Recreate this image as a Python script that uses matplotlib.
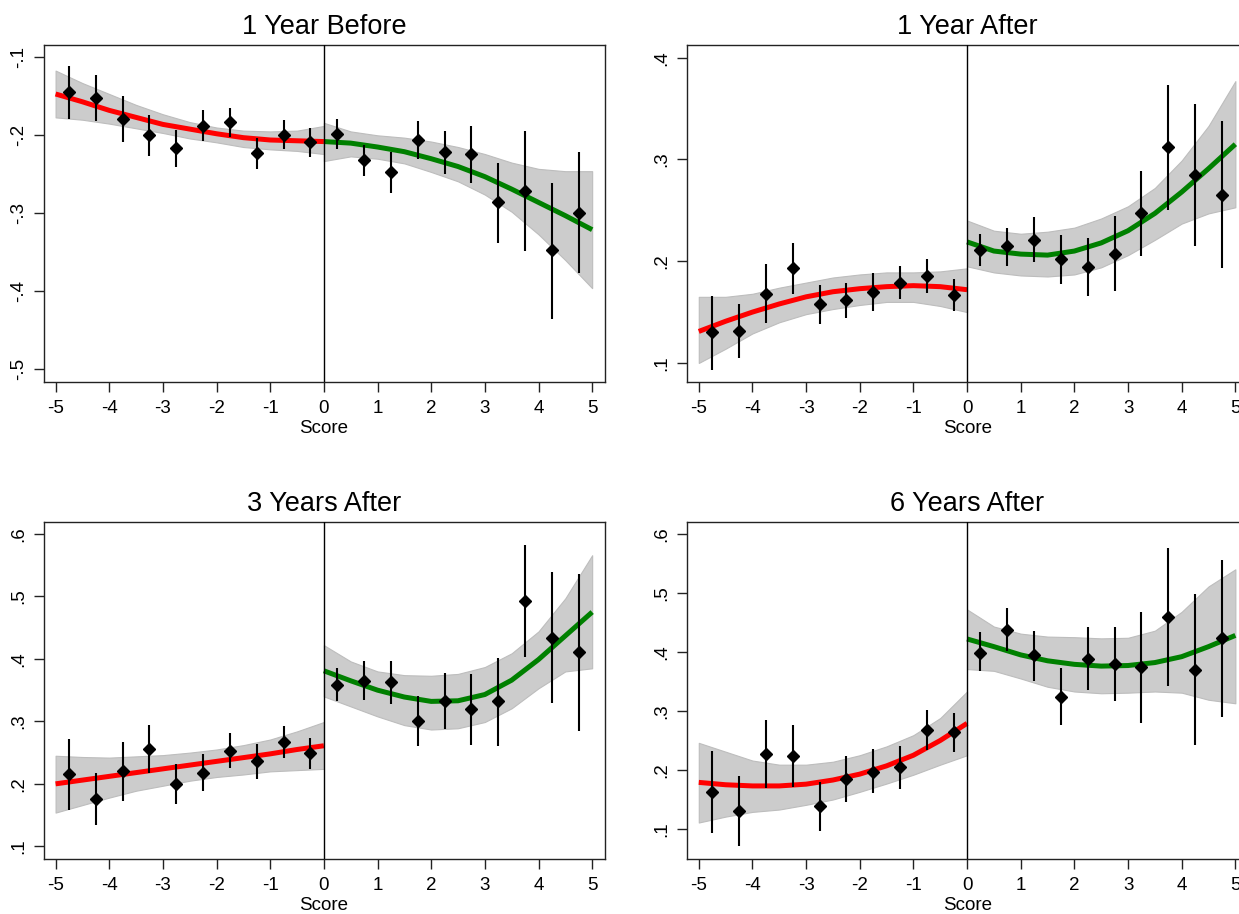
import matplotlib
matplotlib.use("Agg")
import matplotlib.pyplot as plt
import numpy as np

plt.rcParams['font.family'] = ['Liberation Sans', 'DejaVu Sans']

# bin midpoints and grids for the fitted curves
bins_x = [-4.75, -4.25, -3.75, -3.25, -2.75, -2.25, -1.75, -1.25, -0.75, -0.25,
          0.25, 0.75, 1.25, 1.75, 2.25, 2.75, 3.25, 3.75, 4.25, 4.75]
grid_left = [-5, -4.5, -4, -3.5, -3, -2.5, -2, -1.5, -1, -0.5, 0]
grid_right = [0, 0.5, 1, 1.5, 2, 2.5, 3, 3.5, 4, 4.5, 5]

titles = ["1 Year Before", "1 Year After", "3 Years After", "6 Years After"]

# --- 1 Year Before ---
p1_mean = [-0.145, -0.152, -0.179, -0.200, -0.216, -0.188, -0.183, -0.223, -0.199, -0.209,
           -0.198, -0.232, -0.247, -0.206, -0.222, -0.224, -0.286, -0.271, -0.347, -0.299]
p1_hi = [-0.111, -0.123, -0.150, -0.174, -0.193, -0.168, -0.165, -0.203, -0.180, -0.191,
         -0.179, -0.212, -0.222, -0.182, -0.195, -0.188, -0.235, -0.194, -0.261, -0.222]
p1_lo = [-0.179, -0.181, -0.209, -0.227, -0.240, -0.207, -0.202, -0.243, -0.218, -0.228,
         -0.217, -0.252, -0.274, -0.231, -0.249, -0.261, -0.338, -0.348, -0.435, -0.376]
p1_fit_l = [-0.147, -0.157, -0.168, -0.177, -0.186, -0.192, -0.198, -0.203, -0.206, -0.207, -0.208]
p1_band_l_hi = [-0.117, -0.133, -0.147, -0.161, -0.173, -0.183, -0.190, -0.194, -0.195, -0.194, -0.188]
p1_band_l_lo = [-0.177, -0.180, -0.185, -0.191, -0.197, -0.204, -0.209, -0.215, -0.218, -0.220, -0.224]
p1_fit_r = [-0.208, -0.210, -0.215, -0.221, -0.230, -0.240, -0.253, -0.269, -0.286, -0.303, -0.321]
p1_band_r_hi = [-0.184, -0.195, -0.200, -0.203, -0.208, -0.215, -0.224, -0.235, -0.243, -0.246, -0.246]
p1_band_r_lo = [-0.233, -0.227, -0.230, -0.236, -0.247, -0.259, -0.276, -0.298, -0.327, -0.360, -0.396]

# --- 1 Year After ---
p2_mean = [0.130, 0.131, 0.168, 0.193, 0.158, 0.162, 0.170, 0.179, 0.185, 0.167,
           0.211, 0.215, 0.221, 0.202, 0.194, 0.207, 0.247, 0.312, 0.285, 0.265]
p2_hi = [0.166, 0.158, 0.197, 0.218, 0.177, 0.179, 0.188, 0.195, 0.202, 0.183,
         0.227, 0.233, 0.243, 0.226, 0.223, 0.244, 0.289, 0.373, 0.355, 0.338]
p2_lo = [0.093, 0.105, 0.139, 0.168, 0.138, 0.144, 0.151, 0.163, 0.169, 0.151,
         0.195, 0.195, 0.199, 0.178, 0.166, 0.171, 0.205, 0.250, 0.215, 0.193]
p2_fit_l = [0.131, 0.141, 0.150, 0.158, 0.165, 0.170, 0.173, 0.175, 0.176, 0.175, 0.172]
p2_band_l_hi = [0.165, 0.165, 0.168, 0.174, 0.179, 0.184, 0.187, 0.189, 0.189, 0.190, 0.193]
p2_band_l_lo = [0.100, 0.114, 0.129, 0.140, 0.148, 0.153, 0.157, 0.160, 0.160, 0.156, 0.150]
p2_fit_r = [0.219, 0.210, 0.207, 0.206, 0.210, 0.218, 0.230, 0.247, 0.268, 0.291, 0.315]
p2_band_r_hi = [0.240, 0.230, 0.227, 0.229, 0.233, 0.242, 0.254, 0.272, 0.299, 0.333, 0.377]
p2_band_r_lo = [0.195, 0.189, 0.186, 0.185, 0.187, 0.194, 0.206, 0.221, 0.237, 0.247, 0.253]

# --- 3 Years After ---
p3_mean = [0.215, 0.176, 0.220, 0.255, 0.200, 0.218, 0.253, 0.236, 0.267, 0.249,
           0.359, 0.365, 0.363, 0.301, 0.333, 0.320, 0.332, 0.493, 0.434, 0.411]
p3_hi = [0.272, 0.217, 0.267, 0.294, 0.232, 0.247, 0.281, 0.264, 0.293, 0.274,
         0.385, 0.396, 0.397, 0.340, 0.378, 0.376, 0.401, 0.582, 0.539, 0.536]
p3_lo = [0.158, 0.134, 0.173, 0.217, 0.167, 0.189, 0.226, 0.207, 0.241, 0.224,
         0.333, 0.334, 0.328, 0.261, 0.288, 0.262, 0.261, 0.403, 0.329, 0.285]
p3_fit_l = [0.200, 0.206, 0.212, 0.218, 0.224, 0.230, 0.236, 0.242, 0.248, 0.255, 0.261]
p3_band_l_hi = [0.245, 0.243, 0.242, 0.244, 0.246, 0.250, 0.255, 0.262, 0.271, 0.284, 0.299]
p3_band_l_lo = [0.154, 0.166, 0.178, 0.189, 0.197, 0.205, 0.211, 0.215, 0.220, 0.222, 0.224]
p3_fit_r = [0.381, 0.365, 0.350, 0.339, 0.332, 0.333, 0.343, 0.366, 0.399, 0.437, 0.475]
p3_band_r_hi = [0.422, 0.396, 0.380, 0.374, 0.373, 0.376, 0.387, 0.409, 0.444, 0.497, 0.566]
p3_band_r_lo = [0.340, 0.324, 0.308, 0.294, 0.287, 0.289, 0.299, 0.321, 0.353, 0.380, 0.385]

# --- 6 Years After ---
p4_mean = [0.163, 0.131, 0.227, 0.224, 0.139, 0.184, 0.197, 0.205, 0.268, 0.264,
           0.399, 0.437, 0.395, 0.324, 0.388, 0.379, 0.374, 0.460, 0.370, 0.423]
p4_hi = [0.232, 0.190, 0.285, 0.276, 0.180, 0.223, 0.235, 0.241, 0.301, 0.296,
         0.433, 0.474, 0.436, 0.372, 0.442, 0.442, 0.468, 0.576, 0.498, 0.556]
p4_lo = [0.094, 0.071, 0.169, 0.172, 0.097, 0.146, 0.161, 0.168, 0.234, 0.231,
         0.367, 0.401, 0.351, 0.276, 0.335, 0.317, 0.280, 0.343, 0.242, 0.290]
p4_fit_l = [0.179, 0.175, 0.173, 0.173, 0.176, 0.183, 0.193, 0.207, 0.225, 0.250, 0.279]
p4_band_l_hi = [0.246, 0.231, 0.216, 0.209, 0.209, 0.214, 0.225, 0.240, 0.259, 0.288, 0.333]
p4_band_l_lo = [0.111, 0.121, 0.129, 0.133, 0.141, 0.150, 0.163, 0.177, 0.192, 0.209, 0.225]
p4_fit_r = [0.422, 0.409, 0.395, 0.385, 0.379, 0.376, 0.377, 0.382, 0.392, 0.409, 0.428]
p4_band_r_hi = [0.472, 0.443, 0.431, 0.426, 0.425, 0.423, 0.424, 0.436, 0.468, 0.511, 0.540]
p4_band_r_lo = [0.371, 0.368, 0.355, 0.341, 0.333, 0.330, 0.331, 0.333, 0.331, 0.319, 0.313]

panels = [
    (p1_mean, p1_lo, p1_hi, p1_fit_l, p1_band_l_lo, p1_band_l_hi, p1_fit_r, p1_band_r_lo, p1_band_r_hi),
    (p2_mean, p2_lo, p2_hi, p2_fit_l, p2_band_l_lo, p2_band_l_hi, p2_fit_r, p2_band_r_lo, p2_band_r_hi),
    (p3_mean, p3_lo, p3_hi, p3_fit_l, p3_band_l_lo, p3_band_l_hi, p3_fit_r, p3_band_r_lo, p3_band_r_hi),
    (p4_mean, p4_lo, p4_hi, p4_fit_l, p4_band_l_lo, p4_band_l_hi, p4_fit_r, p4_band_r_lo, p4_band_r_hi),
]

y_limits = [(-0.5167, -0.0838), (0.081, 0.4128), (0.0797, 0.620), (0.0492, 0.621)]
y_ticks = [
    ([-0.5, -0.4, -0.3, -0.2, -0.1], ["-.5", "-.4", "-.3", "-.2", "-.1"]),
    ([0.1, 0.2, 0.3, 0.4], [".1", ".2", ".3", ".4"]),
    ([0.1, 0.2, 0.3, 0.4, 0.5, 0.6], [".1", ".2", ".3", ".4", ".5", ".6"]),
    ([0.1, 0.2, 0.3, 0.4, 0.5, 0.6], [".1", ".2", ".3", ".4", ".5", ".6"]),
]
x_ticks = [-5, -4, -3, -2, -1, 0, 1, 2, 3, 4, 5]

W, H = 1239, 914
fig = plt.figure(figsize=(W / 100, H / 100), dpi=100)

# axes boxes in pixels: left, top, width, height
boxes = [(43.5, 44.7, 561, 337.6), (686.7, 44.7, 561, 337.6),
         (43.5, 521.5, 561, 337.5), (686.7, 521.5, 561, 337.5)]

band_color = '#cccccc'
band_edge = '#bdbdbd'

for i, (box, data) in enumerate(zip(boxes, panels)):
    mean, lo, hi, fit_l, bl_lo, bl_hi, fit_r, br_lo, br_hi = data
    l, t, w, h = box
    ax = fig.add_axes([l / W, (H - t - h) / H, w / W, h / H])

    ax.fill_between(grid_left, bl_lo, bl_hi, color=band_color, edgecolor=band_edge, lw=0.8, zorder=1)
    ax.fill_between(grid_right, br_lo, br_hi, color=band_color, edgecolor=band_edge, lw=0.8, zorder=1)
    ax.plot(grid_left, fit_l, color='red', lw=3.6, solid_capstyle='butt',
            solid_joinstyle='round', zorder=2)
    ax.plot(grid_right, fit_r, color='green', lw=3.6, solid_capstyle='butt',
            solid_joinstyle='round', zorder=2)

    ax.axvline(0, color='black', lw=1.0, zorder=3)

    mean_a = np.array(mean)
    yerr = [mean_a - np.array(lo), np.array(hi) - mean_a]
    ax.errorbar(bins_x, mean, yerr=yerr, fmt='none', ecolor='black', elinewidth=1.5,
                capsize=0, zorder=4)
    ax.plot(bins_x, mean, linestyle='none', marker='D', markersize=6.6,
            color='black', zorder=5)

    ax.set_xlim(-5.225, 5.23)
    ax.set_ylim(*y_limits[i])
    ax.set_xticks(x_ticks)
    ax.set_xticklabels([str(v) for v in x_ticks], fontsize=13.5)
    ticks, labels = y_ticks[i]
    ax.set_yticks(ticks)
    ax.set_yticklabels(labels, fontsize=13.5, rotation=90, va='center')
    ax.tick_params(axis='x', direction='out', length=7, width=1.0, color='#222222', pad=6)
    ax.tick_params(axis='y', direction='out', length=7, width=1.0, color='#222222', pad=5)
    for s in ax.spines.values():
        s.set_linewidth(1.0)
        s.set_color('#222222')

    ax.set_title(titles[i], fontsize=19.5, pad=7.5)
    ax.set_xlabel("Score", fontsize=13.5, labelpad=2)

fig.savefig("out.png", dpi=100)
